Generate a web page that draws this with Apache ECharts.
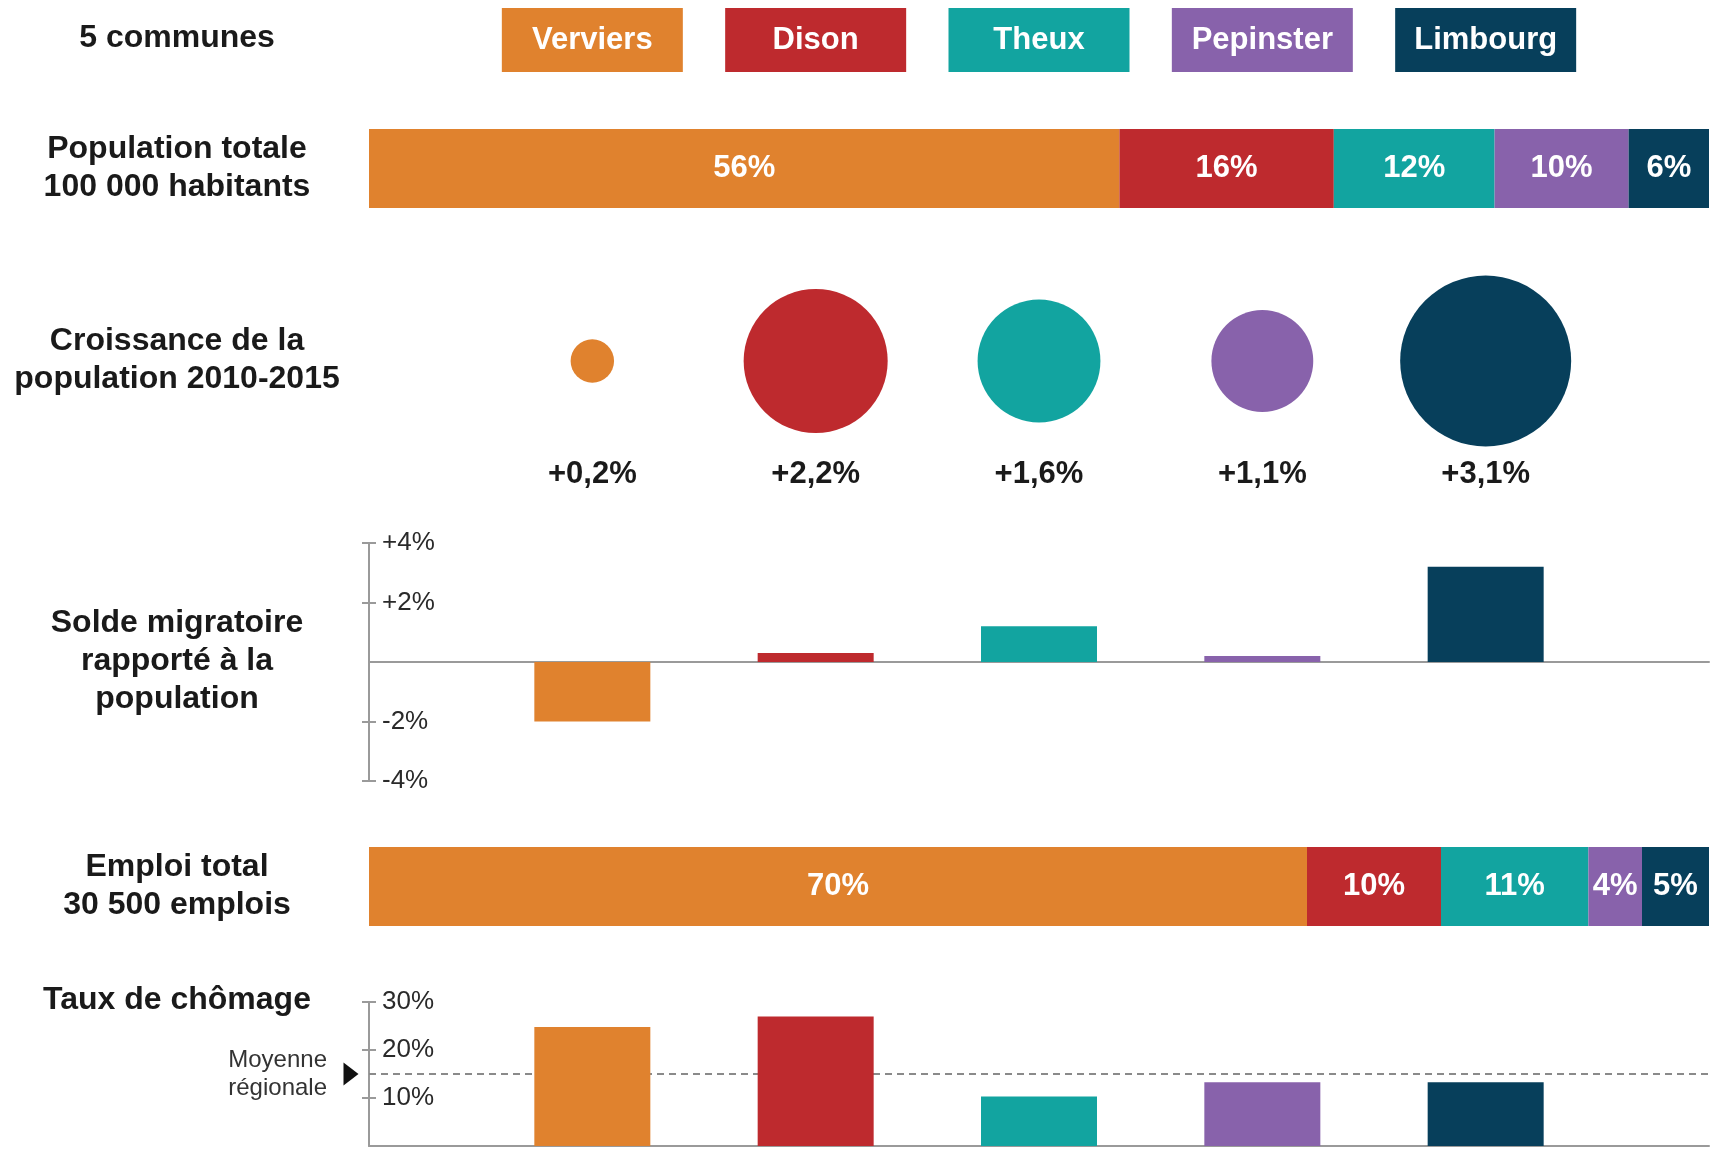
<!DOCTYPE html>
<html><head><meta charset="utf-8">
<script src="https://cdn.jsdelivr.net/npm/echarts@6/dist/echarts.min.js"></script>
<style>html,body{margin:0;padding:0;background:#fff}#c{width:1720px;height:1160px}</style>
</head><body><div id="c"></div>
<script>
// ---- data ----
const communes = ['Verviers', 'Dison', 'Theux', 'Pepinster', 'Limbourg'];
const colors = ['#E0822E', '#BE2A2E', '#12A4A0', '#8862AB', '#073F5B'];
const populationShare = [56, 16, 12, 10, 6];          // % of 100 000 inhabitants
const croissance = [0.2, 2.2, 1.6, 1.1, 3.1];         // % growth 2010-2015
const soldeMigratoire = [-2.0, 0.3, 1.2, 0.2, 3.2];   // % of population
const emploiShare = [70, 10, 11, 4, 5];               // % of 30 500 jobs
const chomage = [24.8, 27.0, 10.3, 13.3, 13.3];       // unemployment rate %
const moyenneRegionale = 15;
const soldeTicks = [-4, -2, 2, 4];
const chomageTicks = [10, 20, 30];
const rowLabels = [
  {text: '5 communes', y: 38},
  {text: 'Population totale\n100 000 habitants', y: 168},
  {text: 'Croissance de la\npopulation 2010-2015', y: 360},
  {text: 'Solde migratoire\nrapporté à la\npopulation', y: 661},
  {text: 'Emploi total\n30 500 emplois', y: 886},
  {text: 'Taux de chômage', y: 1000}
];

// ---- helpers ----
const FONT = '"Liberation Sans", Arial, Helvetica, sans-serif';
const slot = communes.map((c, i) => i + 1);
const X_MAX = communes.length + 1;
const AXIS_COLOR = '#9a9a9a';
const maxCroissance = Math.max(...croissance);
const fmtPct = v => (v > 0 ? '+' : '') + v + '%';
const fmtGrowth = v => '+' + v.toFixed(1).replace('.', ',') + '%';

const whiteLabel = {
  show: true, position: 'inside', color: '#fff', fontFamily: FONT,
  fontWeight: 'bold', fontSize: 31
};

const G = {left: 369, right: 11};
const grids = [
  Object.assign({top: 8, height: 64}, G),
  Object.assign({top: 129, height: 79}, G),
  Object.assign({top: 250, height: 222}, G),
  Object.assign({top: 543, height: 238}, G),
  Object.assign({top: 847, height: 79}, G),
  Object.assign({top: 1002, height: 144}, G)
];

const hiddenSlotX = gi => ({gridIndex: gi, type: 'value', min: 0, max: X_MAX, show: false});
const hiddenPctX = gi => ({gridIndex: gi, type: 'value', min: 0, max: 100, show: false});
const visibleSlotX = gi => ({
  gridIndex: gi, type: 'value', min: 0, max: X_MAX,
  axisLine: {show: true, onZero: true, lineStyle: {color: AXIS_COLOR, width: 2}},
  axisTick: {show: false}, axisLabel: {show: false}, splitLine: {show: false}
});

const axisFont = {color: '#2a2a2a', fontFamily: FONT, fontSize: 26};

function mainY(gi, min, max, interval, ticks, fmt) {
  return {
    gridIndex: gi, type: 'value', min, max, interval,
    axisLine: {show: true, onZero: false, lineStyle: {color: AXIS_COLOR, width: 2}},
    axisTick: {show: true, inside: false, length: 7, customValues: ticks, lineStyle: {color: AXIS_COLOR, width: 2}},
    axisLabel: Object.assign({show: true, inside: true, margin: 13, customValues: ticks, formatter: fmt}, axisFont),
    splitLine: {show: false}
  };
}
function innerTickY(gi, min, max, interval, ticks) {
  return {
    gridIndex: gi, type: 'value', min, max, interval, position: 'left', offset: 0,
    axisLine: {show: false},
    axisTick: {show: true, inside: true, length: 7, customValues: ticks, lineStyle: {color: AXIS_COLOR, width: 2}},
    axisLabel: {show: false}, splitLine: {show: false}
  };
}

function stackSeries(values, stack, gi) {
  return communes.map((c, i) => ({
    type: 'bar', name: c, stack, xAxisIndex: gi, yAxisIndex: gi,
    data: [values[i]], barWidth: '100%',
    itemStyle: {color: colors[i]},
    label: Object.assign({formatter: '{c}%'}, whiteLabel)
  }));
}

const series = [];
// legend boxes
series.push({
  type: 'scatter', xAxisIndex: 0, yAxisIndex: 0, symbol: 'rect', symbolSize: [181, 64],
  data: communes.map((c, i) => ({name: c, value: [slot[i], 0], itemStyle: {color: colors[i], opacity: 1}})),
  itemStyle: {opacity: 1},
  label: Object.assign({formatter: '{b}'}, whiteLabel)
});
// population share
series.push(...stackSeries(populationShare, 'pop', 1));
// growth bubbles (area proportional to growth)
series.push({
  type: 'scatter', xAxisIndex: 2, yAxisIndex: 2,
  symbolSize: d => 171 * Math.sqrt(d[2] / maxCroissance),
  itemStyle: {opacity: 1},
  data: croissance.map((v, i) => ({value: [slot[i], 0, v], itemStyle: {color: colors[i], opacity: 1}})),
  label: {
    show: true, position: 'inside', offset: [0, 113],
    formatter: p => fmtGrowth(p.value[2]),
    color: '#1a1a1a', fontFamily: FONT, fontWeight: 'bold', fontSize: 31
  }
});
// migration balance
series.push({
  type: 'bar', xAxisIndex: 3, yAxisIndex: 3, barWidth: 116,
  data: soldeMigratoire.map((v, i) => ({value: [slot[i], v], itemStyle: {color: colors[i]}}))
});
// employment share
series.push(...stackSeries(emploiShare, 'emp', 4));
// unemployment
series.push({
  type: 'bar', xAxisIndex: 5, yAxisIndex: 5, barWidth: 116, z: 6, zlevel: 1,
  data: chomage.map((v, i) => ({value: [slot[i], v], itemStyle: {color: colors[i]}}))
});
// regional average
series.push({
  type: 'line', xAxisIndex: 5, yAxisIndex: 5, data: [], z: 1,
  markLine: {
    silent: true, symbol: 'none', animation: false, z: 1,
    lineStyle: {type: [7, 5], color: '#8a8a8a', width: 2},
    label: {
      show: true, position: 'start', distance: 42, formatter: 'Moyenne\nrégionale',
      color: '#333', fontFamily: FONT, fontSize: 24, lineHeight: 28
    },
    data: [{yAxis: moyenneRegionale}]
  },
  markPoint: {
    silent: true, symbol: 'triangle', symbolSize: [23, 15], symbolRotate: -90, symbolOffset: [-18, 0],
    itemStyle: {color: '#111'}, label: {show: false},
    data: [{coord: [0, moyenneRegionale]}]
  }
});

const option = {
  animation: false,
  backgroundColor: '#fff',
  grid: grids,
  xAxis: [hiddenSlotX(0), hiddenPctX(1), hiddenSlotX(2), visibleSlotX(3), hiddenPctX(4), visibleSlotX(5)],
  yAxis: [
    {gridIndex: 0, type: 'value', min: -1, max: 1, show: false},
    {gridIndex: 1, type: 'category', data: ['Population'], show: false},
    {gridIndex: 2, type: 'value', min: -1, max: 1, show: false},
    mainY(3, -4, 4, 2, soldeTicks, fmtPct),
    {gridIndex: 4, type: 'category', data: ['Emploi'], show: false},
    mainY(5, 0, 30, 10, chomageTicks, v => v + '%'),
    innerTickY(3, -4, 4, 2, soldeTicks),
    innerTickY(5, 0, 30, 10, chomageTicks)
  ],
  series,
  graphic: rowLabels.map(r => ({
    type: 'text', x: 177, y: r.y, silent: true,
    style: {
      text: r.text, fill: '#1a1a1a', font: 'bold 32px ' + FONT,
      align: 'center', verticalAlign: 'middle', lineHeight: 38
    }
  }))
};

const chart = echarts.init(document.getElementById('c'), null, {renderer: 'canvas'});
chart.setOption(option);
</script>
</body></html>
